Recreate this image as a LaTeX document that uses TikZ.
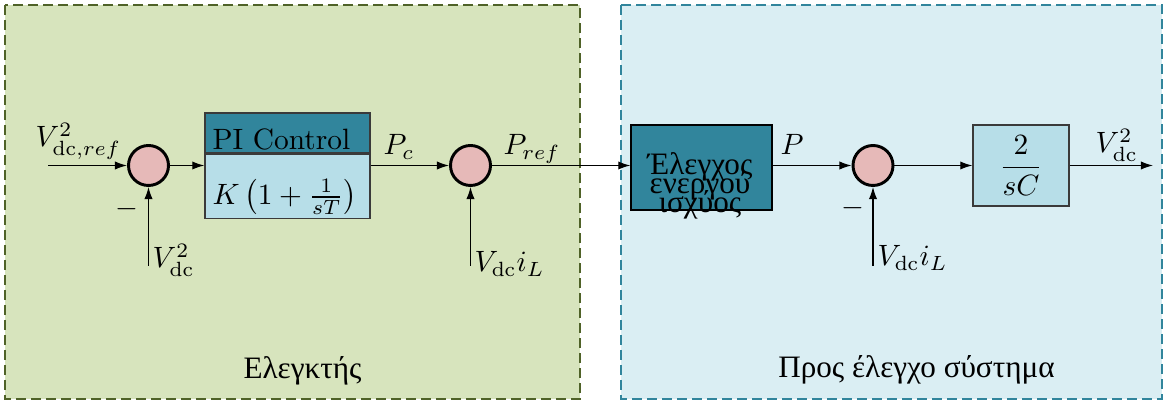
\documentclass[tikz,border=0pt]{standalone}
\usepackage{fontspec}
\newfontfamily\grfont[Scale=1.06]{Liberation Serif}
\usetikzlibrary{arrows.meta}

\definecolor{olivefill}{HTML}{D7E4BD}
\definecolor{oliveline}{HTML}{4F6228}
\definecolor{aquafill}{HTML}{DAEEF3}
\definecolor{aqualine}{HTML}{31859C}
\definecolor{tealbox}{HTML}{31859C}
\definecolor{lightbox}{HTML}{B7DEE8}
\definecolor{sumfill}{HTML}{E6B9B8}
\definecolor{boxline}{HTML}{3A3A3A}

\tikzset{
  region/.style={line width=0.7pt, dash pattern=on 3.4pt off 1.7pt},
  sum/.style={circle, draw=black, line width=1.0pt, fill=sumfill,
    minimum size=13.6pt, inner sep=0pt},
  blockbox/.style={draw=boxline, line width=0.45pt, inner sep=0pt},
  sig/.style={line width=0.4pt, -{Latex[length=4.1pt,width=2.8pt]}},
  lbl/.style={inner sep=0pt, anchor=base west},
  grtext/.style={font=\grfont, inner sep=0pt, anchor=base},
}

\begin{document}
\begin{tikzpicture}[x=0.34pt, y=-0.34pt]
  \useasboundingbox (0,0) rectangle (1170,406);

  % the two dashed regions
  \draw[region, fill=olivefill, draw=oliveline] (5,5) rectangle (580,399);
  \draw[region, fill=aquafill, draw=aqualine] (621,5) rectangle (1162,399);
  \node[grtext] (ctrlname) at (302.5,379) {Ελεγκτής};
  \node[grtext] (plantname) at (916.5,378) {Προς έλεγχο σύστημα};

  % controller: summing junction and PI block
  \node[sum] (c1) at (148.5,165.5) {};
  \node[blockbox, fill=tealbox, minimum width=56.1pt, text width=51pt,
    inner xsep=2.55pt, align=left, text height=12.58pt, text depth=1.02pt]
    (pit) at (287.5,133) {PI Control};
  \node[blockbox, fill=lightbox, minimum width=56.1pt, text width=51pt,
    inner xsep=2.55pt, align=left, text height=17pt, text depth=4.76pt,
    anchor=north] (pib) at (pit.south) {$K\left(1+\frac{1}{sT}\right)$};
  \node[sum] (c2) at (470.5,165.5) {};

  % plant: power control block, summing junction and capacitor
  \node[blockbox, draw=black, fill=tealbox, minimum width=47.94pt,
    minimum height=28.9pt] (pc) at (701.5,167.5) {};
  \node[font=\grfont, inner sep=0pt, text width=47pt, align=center,
    anchor=base] (pctext) at (700,175)
    {Έλεγχος\\[-5.8pt]ενεργού\\[-5.6pt]ισχύος};
  \node[sum] (c3) at (873,165.5) {};
  \node[blockbox, fill=lightbox, minimum width=32.64pt,
    minimum height=27.54pt] (plant) at (1021,165.5) {$\displaystyle\frac{2}{sC}$};

  % signal end points
  \coordinate (in1) at (48,165.5);
  \coordinate (fb1) at (148.5,266);
  \coordinate (fb2) at (470.5,266);
  \coordinate (fb3) at (873,266);
  \coordinate (out) at (1153,165.5);

  % connectors
  \draw[sig] (in1) -- (c1);
  \draw[sig] (fb1) -- (c1);
  \draw[sig] (c1) -- (c1 -| pib.west);
  \draw[sig] (c1 -| pib.east) -- (c2);
  \draw[sig] (fb2) -- (c2);
  \draw[sig] (c2) -- (c2 -| pc.west);
  \draw[sig] (c2 -| pc.east) -- (c3);
  \draw[sig] (fb3) -- (c3);
  \draw[sig] (c3) -- (c3 -| plant.west);
  \draw[sig] (c3 -| plant.east) -- (out);

  % signal labels
  \node[lbl] (lref) at (35,147) {$V_{\mathrm{dc},ref}^2$};
  \node[inner sep=0pt, anchor=base] (m1) at (127,217) {$-$};
  \node[lbl] (lfb1) at (152,268) {$V_{\mathrm{dc}}^2$};
  \node[lbl] (lpc) at (383,155) {$P_c$};
  \node[lbl] (lpref) at (503,155) {$P_{ref}$};
  \node[lbl] (lfb2) at (474,272) {$V_{\mathrm{dc}}i_L$};
  \node[lbl] (lp) at (780,155) {$P$};
  \node[inner sep=0pt, anchor=base] (m3) at (853,216) {$-$};
  \node[lbl] (lfb3) at (877,266) {$V_{\mathrm{dc}}i_L$};
  \node[lbl] (lout) at (1095,153) {$V_{\mathrm{dc}}^2$};
\end{tikzpicture}
\end{document}
